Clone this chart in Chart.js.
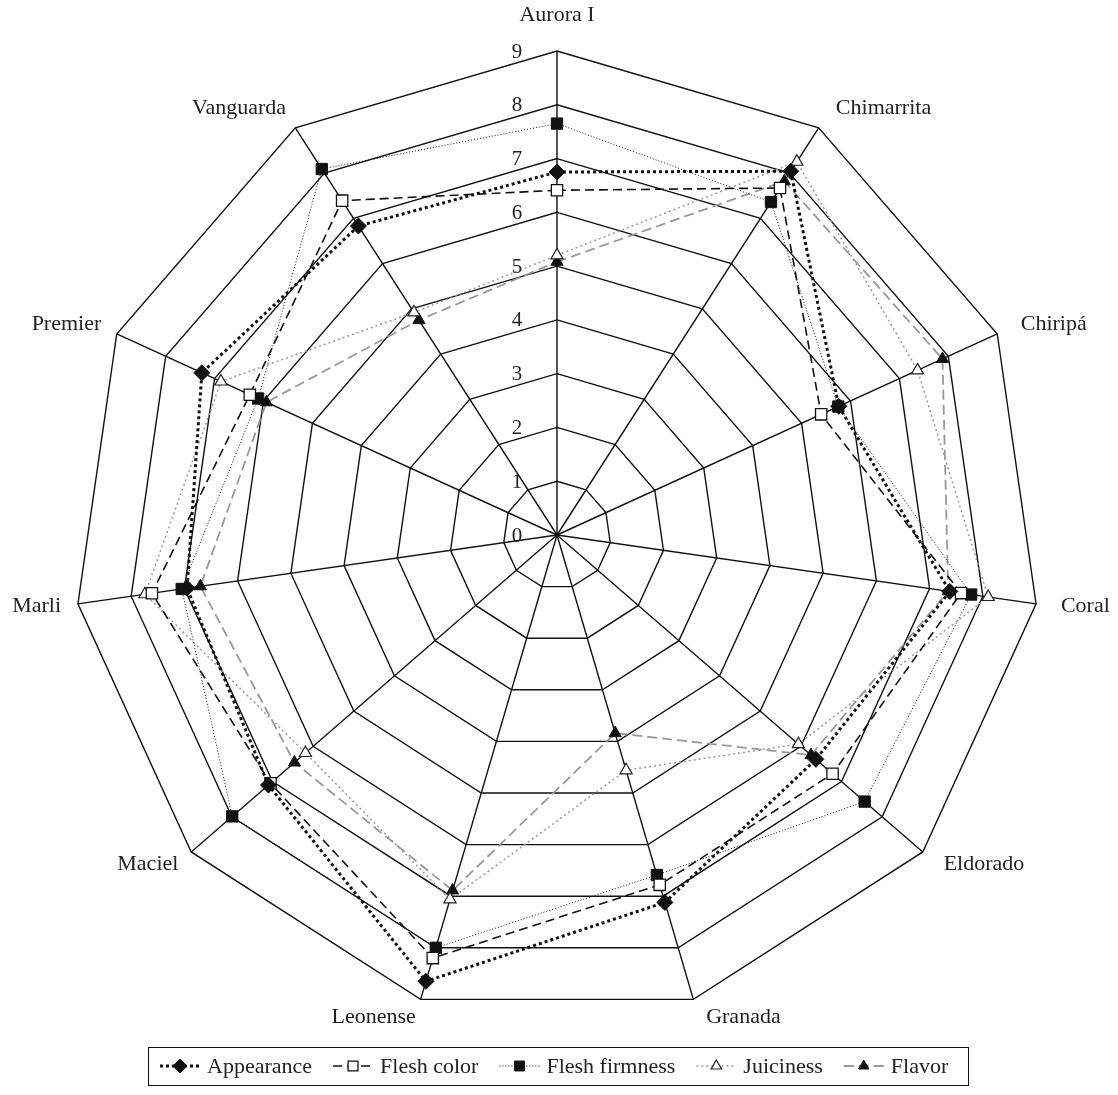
<!DOCTYPE html>
<html>
<head>
<meta charset="utf-8">
<script src="https://cdn.jsdelivr.net/npm/chart.js@4/dist/chart.umd.min.js"></script>
<style>
  html, body { margin: 0; padding: 0; background: #fff; }
  #wrap { width: 1118px; height: 1095px; position: relative; }
</style>
</head>
<body>
<div id="wrap"><canvas id="radar"></canvas></div>
<script>
// Cultivars and sensory scores
const cultivars = ['Aurora I', 'Chimarrita', 'Chiripá', 'Coral', 'Eldorado', 'Granada',
                   'Leonense', 'Maciel', 'Marli', 'Premier', 'Vanguarda'];
const appearance    = [6.75, 8.04, 5.76, 7.38, 6.37, 7.12, 8.65, 7.10, 6.95, 7.26, 6.83];
const fleshColor    = [6.41, 7.67, 5.40, 7.59, 6.78, 6.78, 8.20, 7.05, 7.61, 6.28, 7.39];
const fleshFirmness = [7.65, 7.36, 5.75, 7.78, 7.57, 6.59, 8.00, 7.99, 7.05, 6.11, 8.09];
const juiciness     = [5.20, 8.25, 7.37, 8.10, 5.94, 4.56, 7.06, 6.19, 7.74, 6.87, 4.92];
const flavor        = [5.08, 7.82, 7.88, 7.35, 6.25, 3.84, 6.89, 6.46, 6.70, 5.94, 4.75];
const scaleTicks    = [0, 1, 2, 3, 4, 5, 6, 7, 8, 9];

const FONT = "'Liberation Serif', 'DejaVu Serif', serif";

const datasets = [
    {
        label: 'Appearance', data: appearance,
        borderColor: '#111', borderWidth: 3, borderDash: [3, 3],
        pointStyle: 'rectRot', pointRadius: 8, pointBackgroundColor: '#111',
        pointBorderColor: '#111', pointBorderWidth: 1
    },
    {
        label: 'Flesh color', data: fleshColor,
        borderColor: '#111', borderWidth: 1.6, borderDash: [9, 5],
        pointStyle: 'rect', pointRadius: 8, pointBackgroundColor: '#fff',
        pointBorderColor: '#111', pointBorderWidth: 1.3
    },
    {
        label: 'Flesh firmness', data: fleshFirmness,
        borderColor: '#111', borderWidth: 1, borderDash: [1, 2],
        pointStyle: 'rect', pointRadius: 8, pointBackgroundColor: '#111',
        pointBorderColor: '#111', pointBorderWidth: 1
    },
    {
        label: 'Juiciness', data: juiciness,
        borderColor: '#999', borderWidth: 1.5, borderDash: [2, 3],
        pointStyle: 'triangle', pointRadius: 7, pointBackgroundColor: '#fff',
        pointBorderColor: '#222', pointBorderWidth: 1.2
    },
    {
        label: 'Flavor', data: flavor,
        borderColor: '#999', borderWidth: 1.8, borderDash: [10, 5],
        pointStyle: 'triangle', pointRadius: 7, pointBackgroundColor: '#111',
        pointBorderColor: '#111', pointBorderWidth: 1
    }
];
datasets.forEach(d => { d.fill = false; d.tension = 0; d.pointHoverRadius = d.pointRadius; });

// Tick numbers sit just left of the top axis
const tickLabels = {
    id: 'tickLabels',
    afterDatasetsDraw(chart) {
        const r = chart.scales.r;
        const ctx = chart.ctx;
        ctx.save();
        ctx.font = '21px ' + FONT;
        ctx.fillStyle = '#222';
        ctx.textAlign = 'center';
        ctx.textBaseline = 'middle';
        scaleTicks.forEach(v => {
            const d = r.getDistanceFromCenterForValue(v);
            ctx.fillText(String(v), r.xCenter - 40, r.yCenter - d + 1);
        });
        ctx.restore();
    }
};

// Cultivar names around the web, box corner resting on the spoke
const spokeLabels = {
    id: 'spokeLabels',
    afterDraw(chart) {
        const r = chart.scales.r;
        const ctx = chart.ctx;
        ctx.save();
        ctx.font = '22px ' + FONT;
        ctx.fillStyle = '#222';
        ctx.textAlign = 'center';
        ctx.textBaseline = 'middle';
        cultivars.forEach((name, i) => {
            const a = r.getIndexAngle(i);
            const s = Math.sin(a), c = Math.cos(a);
            const w = ctx.measureText(name).width;
            let x, y;
            if (i === 0) {
                const p = r.getPointPosition(i, r.drawingArea + 36);
                x = p.x; y = p.y;
            } else {
                const p = r.getPointPosition(i, r.drawingArea + 17);
                x = p.x + Math.sign(s) * w / 2 + (s > 0 ? 8 : 0);
                y = p.y - c * (c < 0 ? 2 : 6);
            }
            ctx.fillText(name, x, y);
        });
        ctx.restore();
    }
};

// Boxed legend with line + marker samples
const boxLegend = {
    id: 'boxLegend',
    afterDraw(chart) {
        const ctx = chart.ctx;
        const top = 1047, bottom = 1085, left = 148, right = 968;
        const cy = (top + bottom) / 2;
        ctx.save();
        ctx.strokeStyle = '#111';
        ctx.lineWidth = 1;
        ctx.strokeRect(left + 0.5, top + 0.5, right - left, bottom - top);
        ctx.font = '22px ' + FONT;
        ctx.textBaseline = 'middle';
        ctx.textAlign = 'left';
        let tx = 207;
        datasets.forEach(d => {
            const sx = tx - 47;
            ctx.save();
            ctx.strokeStyle = d.borderColor;
            ctx.lineWidth = d.borderWidth;
            ctx.setLineDash(d.borderDash);
            ctx.beginPath();
            ctx.moveTo(sx, cy);
            ctx.lineTo(sx + 40, cy);
            ctx.stroke();
            ctx.restore();
            ctx.save();
            ctx.fillStyle = d.pointBackgroundColor;
            ctx.strokeStyle = d.pointBorderColor;
            ctx.lineWidth = d.pointBorderWidth;
            Chart.helpers.drawPoint(ctx, { pointStyle: d.pointStyle, radius: d.pointRadius - 1, borderWidth: d.pointBorderWidth }, sx + 20, cy);
            ctx.restore();
            ctx.fillStyle = '#222';
            ctx.fillText(d.label, tx, cy + 1);
            tx += ctx.measureText(d.label).width + 68;
        });
        ctx.restore();
    }
};

new Chart(document.getElementById('radar'), {
    type: 'radar',
    data: { labels: cultivars, datasets: datasets },
    options: {
        responsive: true,
        maintainAspectRatio: false,
        animation: false,
        layout: { padding: { top: 51, bottom: 76, left: 73, right: 77 } },
        plugins: {
            legend: { display: false },
            tooltip: { enabled: false }
        },
        scales: {
            r: {
                min: 0,
                max: 9,
                ticks: { stepSize: 1, display: false },
                grid: { color: '#111', lineWidth: 1.4 },
                angleLines: { color: '#111', lineWidth: 1.4 },
                pointLabels: { display: false }
            }
        }
    },
    plugins: [tickLabels, spokeLabels, boxLegend]
});
</script>
</body>
</html>
